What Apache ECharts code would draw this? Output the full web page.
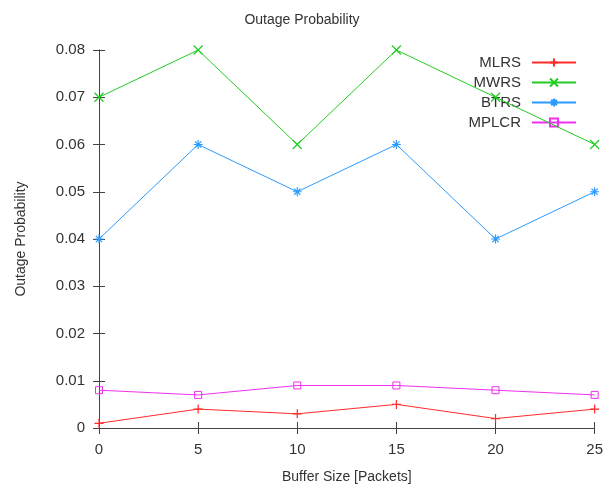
<!DOCTYPE html>
<html><head><meta charset="utf-8">
<script src="https://cdn.jsdelivr.net/npm/echarts@6/dist/echarts.min.js"></script>
<style>html,body{margin:0;padding:0;background:#fff}#c{width:606px;height:489px}</style>
</head><body><div id="c"></div>
<script>
var categories = [0, 5, 10, 15, 20, 25];
var seriesNames = ['MLRS', 'MWRS', 'BTRS', 'MPLCR'];
var mlrs = [0.001, 0.004, 0.003, 0.005, 0.002, 0.004];
var mwrs = [0.07, 0.08, 0.06, 0.08, 0.07, 0.06];
var btrs = [0.04, 0.06, 0.05, 0.06, 0.04, 0.05];
var mplcr = [0.008, 0.007, 0.009, 0.009, 0.008, 0.007];

var font = 'Liberation Sans, Arial, sans-serif';
var colors = ['#ff2a2a', '#22cc22', '#2b9bff', '#f030f0'];
var symbols = [
  'path://M5,0L5,10M0,5L10,5',
  'path://M0,0L10,10M10,0L0,10',
  'path://M5,0L5,10M0,5L10,5M1.5,1.5L8.5,8.5M8.5,1.5L1.5,8.5',
  'rect'
];
var datasets = [mlrs, mwrs, btrs, mplcr];

function pairs(arr) { return categories.map(function (x, i) { return [x, arr[i]]; }); }

var series = datasets.map(function (d, i) {
  var isSq = i === 3;
  return {
    name: seriesNames[i], type: 'line', data: pairs(d),
    symbol: symbols[i], symbolSize: isSq ? 7 : 9,
    showAllSymbol: true,
    lineStyle: { color: colors[i], width: 1 },
    itemStyle: isSq ? { color: 'rgba(0,0,0,0)', borderColor: colors[i], borderWidth: 1 }
                    : { color: 'rgba(0,0,0,0)', borderColor: colors[i], borderWidth: 1.2 },
    emphasis: { disabled: true }, animation: false, z: 3 + (3 - i)
  };
});

var axisLine = { show: true, lineStyle: { color: '#444', width: 1 } };
var tick = { show: true, inside: true, length: 6, lineStyle: { color: '#444' } };
var label = { color: '#333', fontFamily: font, fontSize: 15 };

var option = {
  backgroundColor: '#fff',
  animation: false,
  title: { text: 'Outage Probability', left: 297, top: 8, textAlign: 'center',
    textStyle: { fontFamily: font, fontSize: 14, fontWeight: 'normal', color: '#333' } },
  legend: {
    data: seriesNames, orient: 'vertical', right: 24, top: 50, align: 'right',
    itemWidth: 44, itemHeight: 10, itemGap: 5,
    textStyle: { fontFamily: font, fontSize: 15, color: '#333', padding: [0, 6, 0, 0] },
    backgroundColor: 'rgba(0,0,0,0)'
  },
  grid: { left: 99, right: 10, top: 50, bottom: 58, containLabel: false },
  xAxis: [{
    type: 'value', min: 0, max: 25, interval: 5,
    name: 'Buffer Size [Packets]', nameLocation: 'middle', nameGap: 42,
    nameTextStyle: { fontFamily: font, fontSize: 14, color: '#333' },
    axisLine: axisLine, axisTick: tick, splitLine: { show: false },
    axisLabel: Object.assign({ margin: 14 }, label)
  }, {
    type: 'value', min: 0, max: 25, interval: 5, position: 'top',
    axisLine: axisLine, axisTick: tick, splitLine: { show: false }, axisLabel: { show: false }
  }],
  yAxis: [{
    type: 'value', min: 0, max: 0.08, interval: 0.01,
    name: 'Outage Probability', nameLocation: 'middle', nameGap: 71,
    nameTextStyle: { fontFamily: font, fontSize: 14, color: '#333' },
    axisLine: axisLine, axisTick: tick, splitLine: { show: false },
    axisLabel: Object.assign({ margin: 14, formatter: function (v) { return v === 0 ? '0' : v.toFixed(2); } }, label)
  }, {
    type: 'value', min: 0, max: 0.08, interval: 0.01, position: 'right',
    axisLine: axisLine, axisTick: tick, splitLine: { show: false }, axisLabel: { show: false }
  }],
  series: series
};
var chart = echarts.init(document.getElementById('c'), null, { renderer: 'canvas' });
chart.setOption(option);
</script></body></html>
